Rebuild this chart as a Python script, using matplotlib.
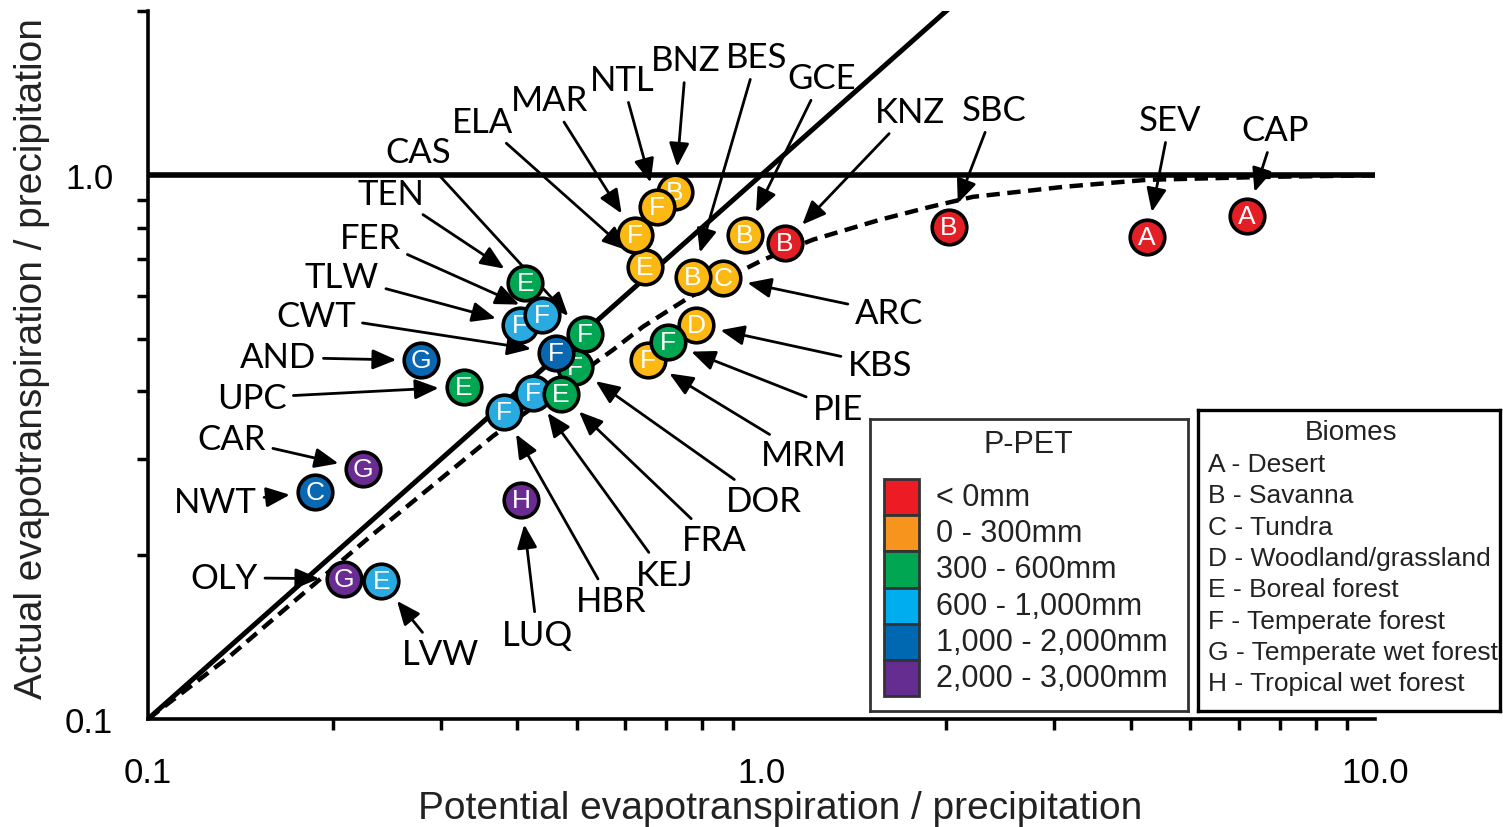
import numpy as np
import matplotlib
matplotlib.use("Agg")
import matplotlib.pyplot as plt
from matplotlib.patches import Rectangle
from matplotlib.ticker import NullFormatter

# LTER sites: PET/P (x), AET/P (y), P-PET class, biome letter
sites = ['CAP', 'SEV', 'SBC', 'GCE', 'KNZ', 'ARC', 'BES', 'BNZ', 'ELA', 'MAR', 'NTL',
         'KBS', 'MRM', 'PIE', 'TEN', 'TLW', 'FER', 'DOR', 'CAS', 'CWT', 'KEJ', 'FRA',
         'HBR', 'AND', 'UPC', 'CAR', 'NWT', 'LUQ', 'OLY', 'LVW']
pet_p = [6.18, 4.25, 2.02, 0.940, 1.092, 0.865, 0.773, 0.723, 0.646, 0.622, 0.676,
         0.782, 0.653, 0.704, 0.412, 0.404, 0.439, 0.497, 0.516, 0.462, 0.424, 0.471,
         0.380, 0.279, 0.327, 0.224, 0.187, 0.406, 0.209, 0.240]
aet_p = [0.841, 0.770, 0.803, 0.776, 0.750, 0.647, 0.650, 0.931, 0.678, 0.776, 0.874,
         0.530, 0.456, 0.492, 0.634, 0.530, 0.553, 0.444, 0.509, 0.471, 0.398, 0.395,
         0.366, 0.456, 0.408, 0.288, 0.261, 0.253, 0.181, 0.179]
ppet_class = [0, 0, 0, 1, 0, 1, 1, 1, 1, 1, 1,
              1, 1, 2, 2, 3, 3, 2, 2, 4, 3, 2,
              3, 4, 2, 5, 4, 5, 5, 3]
biome = ['A', 'A', 'B', 'B', 'B', 'C', 'B', 'B', 'E', 'F', 'F',
         'D', 'F', 'F', 'E', 'F', 'F', 'F', 'F', 'F', 'F', 'E',
         'F', 'G', 'E', 'G', 'C', 'H', 'G', 'E']

# label offsets from each site, in pixels
label_dx = [28, 23, 45, 77, 125, 166, 64, 11, -163, -85, -35,
            184, 156, 170, -134, -178, -172, 189, -167, -240, 132, 153,
            107, -143, -212, -131, -99, 16, -120, 59]
label_dy = [86, 117, 117, 157, 131, -35, 220, 132, 145, 135, 127,
            -40, -95, -67, 89, 48, 77, -134, 182, 37, -182, -146,
            -189, 3, -11, 30, -10, -135, 1, -73]

# Budyko curve
budyko_x = [0.1, 0.136, 0.2275, 0.365, 0.573, 0.641, 0.765, 1.006, 1.213,
            1.561, 1.882, 2.211, 3.124, 4.25, 6.74, 10.0]
budyko_y = [0.1, 0.1305, 0.214, 0.331, 0.477, 0.526, 0.597, 0.698, 0.760,
            0.827, 0.873, 0.911, 0.951, 0.979, 0.9916, 0.998]

ppet_labels = ['< 0mm', '0 - 300mm', '300 - 600mm', '600 - 1,000mm',
               '1,000 - 2,000mm', '2,000 - 3,000mm']
legend_colors = ['#ED1C24', '#F7941D', '#00A651', '#00AEEF', '#0067B1', '#662D91']
marker_colors = ['#E31E24', '#FDB913', '#00A651', '#29ABE2', '#0A67B2', '#6A2C91']
biome_labels = ['A - Desert', 'B - Savanna', 'C - Tundra', 'D - Woodland/grassland',
                'E - Boreal forest', 'F - Temperate forest', 'G - Temperate wet forest',
                'H - Tropical wet forest']

W, H = 1503, 828
fig = plt.figure(figsize=(W / 100, H / 100), dpi=100)
ax = fig.add_axes([148 / W, 1 - 720 / H, 1227 / W, 708 / H])
ax.set_xscale('log')
ax.set_yscale('log')
ax.set_xlim(0.1, 10)
ax.set_ylim(0.1, 2.0)

# 1:1 water limit, energy limit and Budyko curve
lim = np.array([0.1, 10.0])
ax.plot(lim, lim, color='black', lw=3.6, zorder=2, solid_capstyle='butt')
ax.plot(lim, [1.0, 1.0], color='black', lw=4.0, zorder=2)
ax.plot(budyko_x, budyko_y, color='black', lw=3.2, dashes=(3, 1.7), zorder=2)

for i, name in enumerate(sites):
    z = 3 + 2 * i
    ax.scatter(pet_p[i], aet_p[i], s=620, color=marker_colors[ppet_class[i]],
               edgecolor='black', linewidth=2.6, zorder=z)
    ax.text(pet_p[i], aet_p[i], biome[i], color='white', fontsize=19,
            family='Liberation Sans', ha='center', va='center', zorder=z + 1)
    ax.annotate(name, xy=(pet_p[i], aet_p[i]), xytext=(label_dx[i], label_dy[i]),
                textcoords='offset pixels', ha='center', va='center',
                fontsize=25, family='Lato', zorder=2.5,
                arrowprops=dict(arrowstyle='-|>,head_length=0.9,head_width=0.38',
                                color='black', lw=2, mutation_scale=16,
                                shrinkA=3, shrinkB=18))

# axes styling
for side in ['top', 'right']:
    ax.spines[side].set_visible(False)
for side in ['left', 'bottom']:
    ax.spines[side].set_linewidth(2.6)
ax.set_xticks([0.1, 1.0, 10.0])
ax.set_xticklabels(['0.1', '1.0', '10.0'])
ax.set_xticks([0.2, 0.3, 0.4, 0.5, 0.6, 0.7, 0.8, 0.9,
               2, 3, 4, 5, 6, 7, 8, 9], minor=True)
ax.set_yticks([0.1, 1.0])
ax.set_yticklabels(['0.1', '1.0'])
ax.set_yticks([0.2, 0.3, 0.4, 0.5, 0.6, 0.7, 0.8, 0.9, 2.0], minor=True)
ax.xaxis.set_minor_formatter(NullFormatter())
ax.yaxis.set_minor_formatter(NullFormatter())
ax.tick_params(which='minor', direction='out', length=8, width=2.5)
ax.tick_params(which='major', length=0, labelsize=25)
ax.tick_params(axis='x', which='major', pad=27)
ax.tick_params(axis='y', which='major', pad=25)
for lab in ax.get_xticklabels() + ax.get_yticklabels():
    lab.set_family('Liberation Sans')
ax.set_xlabel('Potential evapotranspiration / precipitation', fontsize=28,
              family='Liberation Sans', color='#222222')
ax.set_ylabel('Actual evapotranspiration / precipitation', fontsize=28,
              family='Liberation Sans', color='#222222')
ax.xaxis.set_label_coords(0.515, -0.100)
ax.yaxis.set_label_coords(-0.080, 0.511)

# P-PET colour legend
lw1, lh1 = 318, 292
leg1 = fig.add_axes([870 / W, 1 - 712 / H, lw1 / W, lh1 / H])
leg1.set_xlim(0, lw1)
leg1.set_ylim(lh1, 0)
leg1.set_xticks([])
leg1.set_yticks([])
for sp in leg1.spines.values():
    sp.set_linewidth(2)
    sp.set_edgecolor('#333333')
leg1.text(158, 25, 'P-PET', fontsize=22, family='Liberation Sans',
          ha='center', va='center', color='#222222')
for i, (lab, col) in enumerate(zip(ppet_labels, legend_colors)):
    yc = 78 + 36.2 * i
    leg1.add_patch(Rectangle((14, yc - 18.1), 35, 36.2, facecolor=col,
                             edgecolor='#333333', lw=2))
    leg1.text(66, yc, lab, fontsize=22, family='Liberation Sans',
              ha='left', va='center', color='#222222')

# biome legend
lw2, lh2 = 302, 301
leg2 = fig.add_axes([1198 / W, 1 - 712 / H, lw2 / W, lh2 / H])
leg2.set_xlim(0, lw2)
leg2.set_ylim(lh2, 0)
leg2.set_xticks([])
leg2.set_yticks([])
for sp in leg2.spines.values():
    sp.set_linewidth(2.4)
leg2.text(153, 22, 'Biomes', fontsize=20, family='Liberation Sans',
          ha='center', va='center', color='#222222')
for i, lab in enumerate(biome_labels):
    leg2.text(10, 54 + 31.3 * i, lab, fontsize=19, family='Liberation Sans',
              ha='left', va='center', color='#222222')

fig.savefig('out.png', dpi=100)
